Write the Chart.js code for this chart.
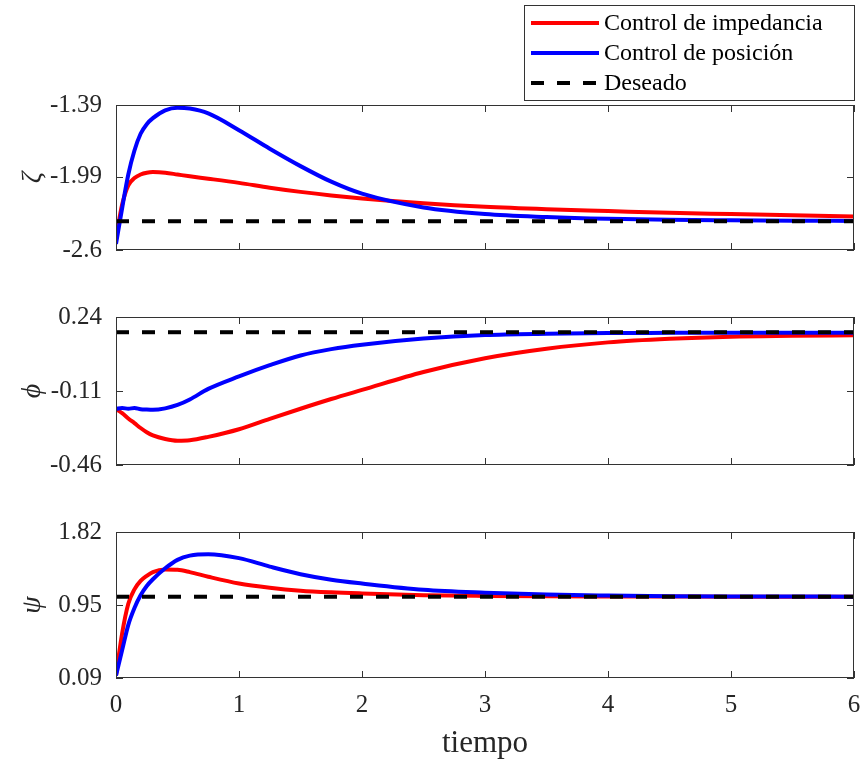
<!DOCTYPE html>
<html>
<head>
<meta charset="utf-8">
<script src="https://cdn.jsdelivr.net/npm/chart.js@4"></script>
<style>
    body { margin: 0; background: #ffffff; }
    #wrap { position: relative; width: 863px; height: 762px; }
    #wrap canvas { position: absolute; left: 0; }
</style>
</head>
<body>
<div id="wrap">
    <canvas id="zetaChart" width="863" height="270" style="top:0px"></canvas>
    <canvas id="phiChart" width="863" height="220" style="top:270px"></canvas>
    <canvas id="psiChart" width="863" height="272" style="top:490px"></canvas>
</div>
<script>
// time samples (shared by all series)
const tiempo = [0, 0.05, 0.1, 0.15, 0.2, 0.25, 0.3, 0.4, 0.5, 0.6, 0.75, 1, 1.25, 1.5, 1.75, 2, 2.5, 3, 3.5, 4, 4.5, 5, 5.5, 6];

const zetaImpedancia = [-2.5, -2.22, -2.06, -2.0, -1.97, -1.955, -1.95, -1.955, -1.97, -1.985, -2.005, -2.04, -2.08, -2.115, -2.145, -2.17, -2.21, -2.24, -2.26, -2.275, -2.29, -2.3, -2.31, -2.32];
const zetaPosicion = [-2.55, -2.25, -1.97, -1.77, -1.63, -1.55, -1.5, -1.435, -1.413, -1.42, -1.46, -1.6, -1.755, -1.9, -2.03, -2.13, -2.245, -2.3, -2.325, -2.34, -2.348, -2.352, -2.355, -2.357];
const zetaDeseado = -2.36;

const phiImpedancia = [-0.195, -0.215, -0.24, -0.262, -0.285, -0.305, -0.32, -0.337, -0.345, -0.343, -0.327, -0.291, -0.242, -0.194, -0.148, -0.105, -0.02, 0.045, 0.09, 0.12, 0.137, 0.147, 0.151, 0.154];
const phiPosicion = [-0.195, -0.19, -0.194, -0.19, -0.196, -0.198, -0.199, -0.192, -0.176, -0.15, -0.1, -0.041, 0.012, 0.058, 0.088, 0.109, 0.138, 0.155, 0.161, 0.164, 0.165, 0.166, 0.166, 0.166];
const phiDeseado = 0.168;

const psiImpedancia = [0.12, 0.62, 0.97, 1.14, 1.24, 1.3, 1.345, 1.375, 1.372, 1.345, 1.29, 1.21, 1.16, 1.125, 1.105, 1.092, 1.072, 1.063, 1.058, 1.056, 1.055, 1.054, 1.054, 1.054];
const psiPosicion = [0.12, 0.42, 0.72, 0.92, 1.07, 1.18, 1.26, 1.39, 1.49, 1.54, 1.557, 1.51, 1.41, 1.32, 1.255, 1.21, 1.135, 1.1, 1.078, 1.067, 1.06, 1.056, 1.055, 1.054];
const psiDeseado = 1.053;

// tick labels
const xTicks = [0, 1, 2, 3, 4, 5, 6];
const zetaTicks = [-2.6, -1.99, -1.39];
const phiTicks = [-0.46, -0.11, 0.24];
const psiTicks = [0.09, 0.95, 1.82];

const seriesNames = ['Control de impedancia', 'Control de posición', 'Deseado'];

const FONT = "'Liberation Serif', 'DejaVu Serif', serif";
const TEXT_COLOR = '#262626';
const FRAME_COLOR = '#333333';

function toPoints(values) {
    return tiempo.map((t, i) => ({ x: t, y: values[i] }));
}

// box around the plot + inward tick marks on all four sides
const framePlugin = {
    id: 'frame',
    afterDatasetsDraw(chart) {
        const { ctx, chartArea: a, scales } = chart;
        const len = 7;
        ctx.save();
        ctx.strokeStyle = FRAME_COLOR;
        ctx.lineWidth = 1;
        ctx.strokeRect(a.left + 0.5, a.top + 0.5, a.right - a.left - 1, a.bottom - a.top - 1);
        ctx.beginPath();
        xTicks.forEach(v => {
            const px = Math.round(scales.x.getPixelForValue(v)) + 0.5;
            ctx.moveTo(px, a.bottom);
            ctx.lineTo(px, a.bottom - len);
            ctx.moveTo(px, a.top);
            ctx.lineTo(px, a.top + len);
        });
        scales.y.ticks.forEach(t => {
            const py = Math.round(scales.y.getPixelForValue(t.value)) + 0.5;
            ctx.moveTo(a.left, py);
            ctx.lineTo(a.left + len, py);
            ctx.moveTo(a.right, py);
            ctx.lineTo(a.right - len, py);
        });
        ctx.stroke();
        ctx.restore();
    }
};

// boxed legend in the top-right corner of the first panel
const legendBoxPlugin = {
    id: 'legendBox',
    afterDraw(chart) {
        const { ctx } = chart;
        ctx.save();
        ctx.fillStyle = '#ffffff';
        ctx.fillRect(524, 5, 331, 96);
        ctx.strokeStyle = FRAME_COLOR;
        ctx.lineWidth = 1;
        ctx.strokeRect(524.5, 5.5, 330, 95);
        chart.data.datasets.forEach((ds, i) => {
            const y = 23 + i * 30;
            ctx.beginPath();
            ctx.strokeStyle = ds.borderColor;
            ctx.lineWidth = 4;
            ctx.setLineDash(ds.borderDash || []);
            ctx.moveTo(531, y);
            ctx.lineTo(599, y);
            ctx.stroke();
            ctx.setLineDash([]);
            ctx.fillStyle = '#000000';
            ctx.font = '24px ' + FONT;
            ctx.textBaseline = 'middle';
            ctx.fillText(ds.label, 604, y + 1);
        });
        ctx.restore();
    }
};

function makePanel(canvasId, opts) {
    const ctx = document.getElementById(canvasId).getContext('2d');
    const plugins = [framePlugin];
    if (opts.legend) plugins.push(legendBoxPlugin);

    return new Chart(ctx, {
        type: 'line',
        data: {
            datasets: [{
                label: seriesNames[0],
                data: toPoints(opts.impedancia),
                borderColor: '#ff0000',
                borderWidth: 4,
                pointRadius: 0,
                cubicInterpolationMode: 'monotone',
                order: 3
            }, {
                label: seriesNames[1],
                data: toPoints(opts.posicion),
                borderColor: '#0000ff',
                borderWidth: 4,
                pointRadius: 0,
                cubicInterpolationMode: 'monotone',
                order: 2
            }, {
                label: seriesNames[2],
                data: [{ x: 0, y: opts.deseado }, { x: 6, y: opts.deseado }],
                borderColor: '#000000',
                borderWidth: 4,
                borderDash: [13, 13],
                pointRadius: 0,
                order: 1
            }]
        },
        options: {
            responsive: false,
            animation: false,
            layout: { padding: opts.padding },
            plugins: {
                legend: { display: false },
                tooltip: { enabled: false }
            },
            scales: {
                x: {
                    type: 'linear',
                    min: 0,
                    max: 6,
                    display: opts.showX,
                    grid: { display: false },
                    border: { display: false },
                    afterBuildTicks: scale => { scale.ticks = xTicks.map(v => ({ value: v })); },
                    afterFit: scale => {
                        if (opts.showX) scale.height = 84;
                        scale.paddingLeft = 0;
                        scale.paddingRight = 0;
                    },
                    ticks: {
                        autoSkip: false,
                        maxRotation: 0,
                        padding: 4,
                        color: TEXT_COLOR,
                        font: { family: FONT, size: 25 }
                    },
                    title: {
                        display: true,
                        text: 'tiempo',
                        color: TEXT_COLOR,
                        padding: { top: 0, bottom: 0 },
                        font: { family: FONT, size: 31 }
                    }
                },
                y: {
                    min: opts.ticks[0],
                    max: opts.ticks[opts.ticks.length - 1],
                    grid: { display: false },
                    border: { display: false },
                    afterBuildTicks: scale => { scale.ticks = opts.ticks.map(v => ({ value: v })); },
                    afterFit: scale => {
                        scale.width = 116;
                        scale.paddingTop = 0;
                        scale.paddingBottom = 0;
                    },
                    ticks: {
                        autoSkip: false,
                        padding: 6,
                        color: TEXT_COLOR,
                        font: { family: FONT, size: 25 },
                        callback: value => String(value)
                    },
                    title: {
                        display: true,
                        text: opts.yLabel,
                        color: TEXT_COLOR,
                        padding: { top: 16, bottom: 0 },
                        font: { family: FONT, size: 28, style: 'italic' }
                    }
                }
            }
        },
        plugins: plugins
    });
}

makePanel('zetaChart', {
    impedancia: zetaImpedancia,
    posicion: zetaPosicion,
    deseado: zetaDeseado,
    ticks: zetaTicks,
    yLabel: 'ζ',
    legend: true,
    showX: false,
    padding: { top: 105, bottom: 20, left: 0, right: 9 }
});

makePanel('phiChart', {
    impedancia: phiImpedancia,
    posicion: phiPosicion,
    deseado: phiDeseado,
    ticks: phiTicks,
    yLabel: 'ϕ',
    legend: false,
    showX: false,
    padding: { top: 47, bottom: 25, left: 0, right: 9 }
});

makePanel('psiChart', {
    impedancia: psiImpedancia,
    posicion: psiPosicion,
    deseado: psiDeseado,
    ticks: psiTicks,
    yLabel: 'ψ',
    legend: false,
    showX: true,
    padding: { top: 42, bottom: 0, left: 0, right: 9 }
});
</script>
</body>
</html>
